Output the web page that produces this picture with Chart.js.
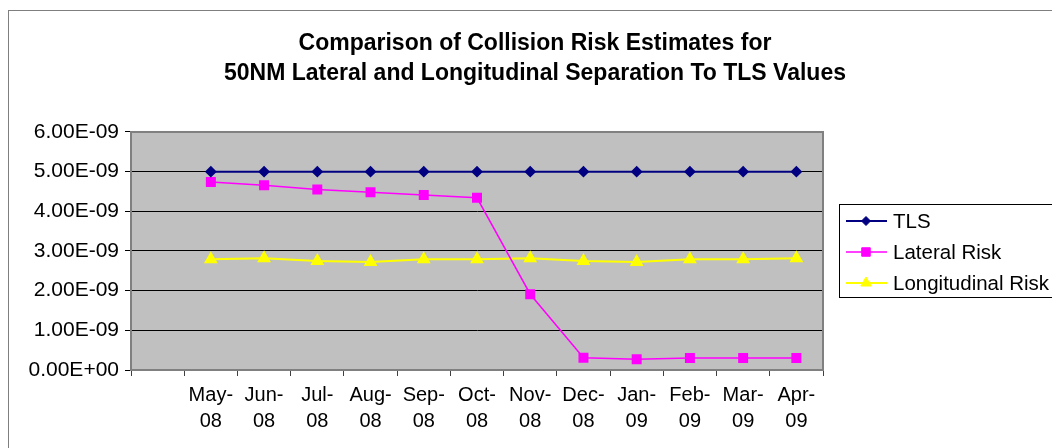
<!DOCTYPE html>
<html>
<head>
<meta charset="utf-8">
<title>Collision Risk Estimates</title>
<script src="https://cdn.jsdelivr.net/npm/chart.js@4/dist/chart.umd.min.js"></script>
<style>
  body { margin: 0; background: #ffffff; }
</style>
</head>
<body>
<canvas id="riskChart" width="1052" height="448"></canvas>
<script>
/* global Chart */

// first category is left empty, like the original sheet
const months = ['', 'May-08', 'Jun-08', 'Jul-08', 'Aug-08', 'Sep-08', 'Oct-08',
  'Nov-08', 'Dec-08', 'Jan-09', 'Feb-09', 'Mar-09', 'Apr-09']
const tlsValues = [null, 5e-9, 5e-9, 5e-9, 5e-9, 5e-9, 5e-9, 5e-9, 5e-9, 5e-9, 5e-9, 5e-9, 5e-9]
const lateralRisk = [null, 4.74e-9, 4.66e-9, 4.55e-9, 4.48e-9, 4.41e-9, 4.34e-9,
  1.91e-9, 0.31e-9, 0.27e-9, 0.30e-9, 0.30e-9, 0.30e-9]
const longitudinalRisk = [null, 2.79e-9, 2.82e-9, 2.75e-9, 2.72e-9, 2.79e-9, 2.79e-9,
  2.82e-9, 2.75e-9, 2.72e-9, 2.79e-9, 2.79e-9, 2.82e-9]
const yTicks = [0, 1e-9, 2e-9, 3e-9, 4e-9, 5e-9, 6e-9]

const FONT = "'Liberation Sans', Arial, sans-serif"

function sci (v) {
  if (Math.abs(v) < 1e-15) return '0.00E+00'
  const parts = v.toExponential(2).split('e')
  const n = Number(parts[1])
  return parts[0] + 'E' + (n < 0 ? '-' : '+') + String(Math.abs(n)).padStart(2, '0')
}

// page frame + grey plot background
const frame = {
  id: 'frame',
  beforeDraw (chart) {
    const { ctx, chartArea: a } = chart
    ctx.save()
    ctx.fillStyle = '#ffffff'
    ctx.fillRect(0, 0, chart.width, chart.height)
    ctx.strokeStyle = '#7f7f7f'
    ctx.lineWidth = 1
    ctx.strokeRect(8.5, 10.5, chart.width + 20, chart.height + 20)
    ctx.fillStyle = '#c0c0c0'
    ctx.fillRect(a.left, a.top, a.right - a.left, a.bottom - a.top)
    ctx.restore()
  },
  beforeDatasetsDraw (chart) {
    const { ctx, chartArea: a } = chart
    ctx.save()
    ctx.strokeStyle = '#808080'
    ctx.lineWidth = 2
    ctx.strokeRect(a.left, a.top, a.right - a.left, a.bottom - a.top)
    ctx.restore()
  }
}

// excel style legend box (line + marker)
const boxLegend = {
  id: 'boxLegend',
  afterDraw (chart) {
    const ctx = chart.ctx
    ctx.save()
    ctx.strokeStyle = '#000000'
    ctx.lineWidth = 1
    ctx.strokeRect(839.5, 204.5, 260, 93)
    chart.data.datasets.forEach((ds, i) => {
      const y = 221 + i * 31
      ctx.strokeStyle = ds.borderColor
      ctx.lineWidth = ds.borderWidth
      ctx.beginPath()
      ctx.moveTo(846, y)
      ctx.lineTo(887, y)
      ctx.stroke()
      ctx.fillStyle = ds.pointBackgroundColor
      ctx.strokeStyle = ds.pointBorderColor
      ctx.lineWidth = 1
      Chart.helpers.drawPoint(ctx, { pointStyle: ds.pointStyle, radius: ds.pointRadius, borderWidth: 1, rotation: 0 }, 866, y)
      ctx.fillStyle = '#000000'
      ctx.font = '20.5px ' + FONT
      ctx.textAlign = 'left'
      ctx.textBaseline = 'middle'
      ctx.fillText(ds.label, 893, y + 1)
    })
    ctx.restore()
  }
}

const ctx = document.getElementById('riskChart').getContext('2d')
// eslint-disable-next-line no-unused-vars
const riskChart = new Chart(ctx, {
  type: 'line',
  data: {
    labels: months,
    datasets: [
      {
        label: 'TLS',
        data: tlsValues,
        borderColor: '#000080',
        borderWidth: 2,
        pointStyle: 'rectRot',
        pointRadius: 4.5,
        pointBackgroundColor: '#000080',
        pointBorderColor: '#000080'
      },
      {
        label: 'Lateral Risk',
        data: lateralRisk,
        borderColor: '#ff00ff',
        borderWidth: 1.5,
        pointStyle: 'rect',
        pointRadius: 6,
        pointBackgroundColor: '#ff00ff',
        pointBorderColor: '#ff00ff'
      },
      {
        label: 'Longitudinal Risk',
        data: longitudinalRisk,
        borderColor: '#ffff00',
        borderWidth: 2,
        pointStyle: 'triangle',
        pointRadius: 6,
        pointBackgroundColor: '#ffff00',
        pointBorderColor: '#ffff00'
      }
    ]
  },
  options: {
    responsive: false,
    animation: false,
    layout: { padding: { left: 18, right: 0, top: 0, bottom: 0 } },
    plugins: {
      legend: { display: false },
      tooltip: { enabled: false },
      title: {
        display: true,
        text: ['Comparison of Collision Risk Estimates for',
          '50NM Lateral and Longitudinal Separation To TLS Values'],
        color: '#000000',
        font: { family: FONT, size: 23, weight: 'bold', lineHeight: 1.304 },
        padding: { top: 29, bottom: 43 }
      }
    },
    scales: {
      x: {
        offset: true,
        grid: {
          offset: true,
          drawOnChartArea: false,
          drawTicks: true,
          tickLength: 6,
          color: '#404040'
        },
        border: { display: true, color: '#808080', width: 2 },
        ticks: {
          color: '#000000',
          maxRotation: 0,
          autoSkip: false,
          padding: 6,
          font: { family: FONT, size: 20, lineHeight: 1.3 },
          callback (v, i) {
            const s = months[i]
            if (!s) return ''
            const k = s.indexOf('-')
            return [s.slice(0, k + 1), s.slice(k + 1)]
          }
        },
        afterFit (s) { s.height = 78 }
      },
      y: {
        min: 0,
        max: 6e-9,
        afterBuildTicks (s) { s.ticks = yTicks.map(v => ({ value: v })) },
        grid: { color: '#000000', lineWidth: 1, tickLength: 6 },
        border: { display: true, color: '#808080', width: 2 },
        ticks: {
          color: '#000000',
          padding: 6,
          font: { family: FONT, size: 21 },
          callback: (v) => sci(v)
        },
        afterFit (s) { s.width = 113 }
      },
      spare: {
        position: 'right',
        display: true,
        grid: { display: false, drawTicks: false },
        border: { display: false },
        ticks: { display: false },
        afterFit (s) { s.width = 229 }
      }
    }
  },
  plugins: [frame, boxLegend]
})
</script>
</body>
</html>
